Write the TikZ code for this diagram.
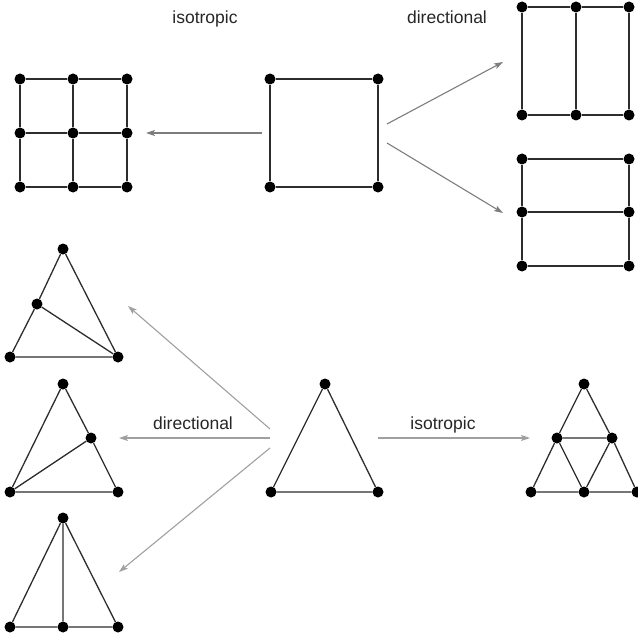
\documentclass[tikz,border=0pt]{standalone}
\usepackage{fontspec}
\setmainfont{Liberation Sans}
\usetikzlibrary{arrows.meta}
\definecolor{edgecol}{RGB}{45,45,45}
\definecolor{arrowdark}{RGB}{125,125,125}
\definecolor{arrowlight}{RGB}{160,160,160}
\tikzset{
  vtx/.style={circle,fill=black,inner sep=0pt,minimum size=11pt},
  edge/.style={draw=edgecol,line width=1.3pt},
  arr/.style={draw=arrowdark,line width=1.1pt,-{Stealth[length=9pt,width=6pt,inset=2pt]}},
  arrl/.style={arr,draw=arrowlight},
  lbl/.style={anchor=base,font=\fontsize{17.5}{20}\selectfont,text=black!85,inner sep=0pt}
}
\begin{document}
\begin{tikzpicture}[x=1pt,y=-1pt]
\useasboundingbox (0,0) rectangle (637,639);
% labels
\node[lbl] (l1) at (205,24) {isotropic};
\node[lbl] (l2) at (447,24) {directional};
\node[lbl] (l3) at (193,429) {directional};
\node[lbl] (l4) at (443,429) {isotropic};

% 3x3 grid
\foreach \i/\x in {1/20,2/73,3/127}
  \foreach \j/\y in {1/79,2/133,3/187}
    \node[vtx] (g\i\j) at (\x,\y) {};
\draw[edge] (g11)--(g21)--(g31) (g12)--(g22)--(g32) (g13)--(g23)--(g33)
            (g11)--(g12)--(g13) (g21)--(g22)--(g23) (g31)--(g32)--(g33);

% central square
\node[vtx] (s1) at (270,79) {};
\node[vtx] (s2) at (378,79) {};
\node[vtx] (s3) at (378,187) {};
\node[vtx] (s4) at (270,187) {};
\draw[edge] (s1)--(s2)--(s3)--(s4)--(s1);

% rectangle A (vertical split)
\node[vtx] (a1) at (522,7) {};
\node[vtx] (a2) at (576,7) {};
\node[vtx] (a3) at (629,7) {};
\node[vtx] (a4) at (522,115) {};
\node[vtx] (a5) at (576,115) {};
\node[vtx] (a6) at (629,115) {};
\draw[edge] (a1)--(a2)--(a3)--(a6)--(a5)--(a4)--(a1) (a2)--(a5);

% rectangle B (horizontal split)
\node[vtx] (b1) at (522,159) {};
\node[vtx] (b2) at (629,159) {};
\node[vtx] (b3) at (522,212) {};
\node[vtx] (b4) at (629,212) {};
\node[vtx] (b5) at (522,266) {};
\node[vtx] (b6) at (629,266) {};
\draw[edge] (b1)--(b2)--(b4)--(b6)--(b5)--(b3)--(b1) (b3)--(b4);

% top arrows
\coordinate (t0) at (262,133);
\coordinate (t1) at (146,133);
\draw[arr] (t0)--(t1);
\coordinate (u0) at (387,124);
\coordinate (u1) at (503,62);
\draw[arr] (u0)--(u1);
\coordinate (v0) at (387,143);
\coordinate (v1) at (503,213);
\draw[arr] (v0)--(v1);

% triangle 1
\node[vtx] (p1) at (63,249) {};
\node[vtx] (p2) at (10,357) {};
\node[vtx] (p3) at (118,357) {};
\node[vtx] (p4) at (37,304) {};
\draw[edge] (p1)--(p4)--(p2)--(p3)--(p1) (p4)--(p3);

% triangle 2
\node[vtx] (q1) at (63,384) {};
\node[vtx] (q2) at (10,492) {};
\node[vtx] (q3) at (118,492) {};
\node[vtx] (q4) at (91,438) {};
\draw[edge] (q1)--(q2)--(q3)--(q4)--(q1) (q2)--(q4);

% triangle 3
\node[vtx] (r1) at (63,518) {};
\node[vtx] (r2) at (10,627) {};
\node[vtx] (r3) at (63,627) {};
\node[vtx] (r4) at (118,627) {};
\draw[edge] (r1)--(r2)--(r3)--(r4)--(r1) (r1)--(r3);

% central triangle
\node[vtx] (c1) at (325,384) {};
\node[vtx] (c2) at (271,492) {};
\node[vtx] (c3) at (378,492) {};
\draw[edge] (c1)--(c2)--(c3)--(c1);

% right subdivided triangle
\node[vtx] (d1) at (584,384) {};
\node[vtx] (d2) at (557,438) {};
\node[vtx] (d3) at (612,438) {};
\node[vtx] (d4) at (531,492) {};
\node[vtx] (d5) at (584,492) {};
\node[vtx] (d6) at (637,492) {};
\draw[edge] (d1)--(d2)--(d4)--(d5)--(d6)--(d3)--(d1) (d2)--(d3) (d2)--(d5)--(d3);

% bottom arrows
\coordinate (w0) at (270,429);
\coordinate (w1) at (128,306);
\draw[arrl] (w0)--(w1);
\coordinate (x0) at (270,438);
\coordinate (x1) at (119,438);
\draw[arrl] (x0)--(x1);
\coordinate (y0) at (270,448);
\coordinate (y1) at (119,572);
\draw[arrl] (y0)--(y1);
\coordinate (z0) at (378,438);
\coordinate (z1) at (530,438);
\draw[arrl] (z0)--(z1);
\end{tikzpicture}
\end{document}
